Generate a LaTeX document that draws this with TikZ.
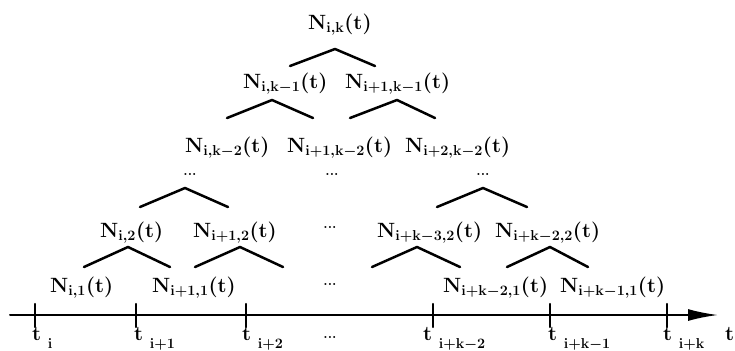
\documentclass[tikz,border=0pt]{standalone}
\usepackage{amsmath,amssymb}
\usetikzlibrary{arrows.meta}
\tikzset{
  every picture/.style={line join=round, line cap=round, >=Stealth},
  lbl/.style={anchor=base west, inner sep=0pt, font=\fontsize{22}{26}\selectfont\boldmath},
  dts/.style={anchor=base, inner sep=0pt, font=\fontsize{14}{16}\selectfont\bfseries},
  wedge/.style={line width=2.5bp},
  tick/.style={line width=2.4bp},
}
\newcommand{\Nt}[1]{$\mathbf{N}_{\mathbf{#1}}\mathbf{(t)}$}
\newcommand{\tk}[1]{$\mathbf{t}\;\raisebox{-8bp}{$\scriptstyle\mathbf{#1}$}$}

\begin{document}
\begin{tikzpicture}[x=1bp,y=-1bp]
\useasboundingbox (0,0) rectangle (735,350);
% nodes, level by level
\node[lbl] (nk) at (308,29) {\Nt{i,k}};
\node[lbl] (nk1a) at (243,88) {\Nt{i,k-1}};
\node[lbl] (nk1b) at (345,88) {\Nt{i+1,k-1}};
\node[lbl] (nk2a) at (185,152) {\Nt{i,k-2}};
\node[lbl] (nk2b) at (287,152) {\Nt{i+1,k-2}};
\node[lbl] (nk2c) at (405,152) {\Nt{i+2,k-2}};
\node[lbl] (n2a) at (100,237) {\Nt{i,2}};
\node[lbl] (n2b) at (193,237) {\Nt{i+1,2}};
\node[lbl] (n2c) at (377,237) {\Nt{i+k-3,2}};
\node[lbl] (n2d) at (495,237) {\Nt{i+k-2,2}};
\node[lbl] (n1a) at (50,292) {\Nt{i,1}};
\node[lbl] (n1b) at (152,292) {\Nt{i+1,1}};
\node[lbl] (n1c) at (443,292) {\Nt{i+k-2,1}};
\node[lbl] (n1d) at (560,292) {\Nt{i+k-1,1}};
% dots
\node[dts] (d1) at (190,175) {...};
\node[dts] (d2) at (332,175) {...};
\node[dts] (d3) at (483,175) {...};
\node[dts] (d4) at (330,228) {...};
\node[dts] (d5) at (330,285) {...};
\node[dts] (d6) at (330,338) {...};
% wedges
\foreach \l/\p/\r/\t/\b in {290/335/375/49/66, 227/272/313/100/118, 350/397/435/100/118,
  140/185/228/188/207, 437/483/527/188/207,
  84/128/170/247/267, 195/240/283/247/267, 372/417/460/247/267, 507/550/588/247/267}
  \draw[wedge] (\l,\b) -- (\p,\t) -- (\r,\b);
% axis
\coordinate (a0) at (10,315);
\coordinate (a1) at (718,315);
\draw[line width=2bp, -{Latex[length=30bp,width=12bp]}] (a0) -- (a1);
\foreach \x in {35,136,246,433,550,667}
  \draw[tick] (\x,304) -- (\x,327);
\node[lbl] (t0) at (32,340) {\tk{i}};
\node[lbl] (t1) at (134,340) {\tk{i+1}};
\node[lbl] (t2) at (242,340) {\tk{i+2}};
\node[lbl] (t3) at (423,340) {\tk{i+k-2}};
\node[lbl] (t4) at (548,340) {\tk{i+k-1}};
\node[lbl] (t5) at (663,340) {\tk{i+k}};
\node[lbl] (tt) at (725,340) {$\mathbf{t}$};
\end{tikzpicture}
\end{document}
